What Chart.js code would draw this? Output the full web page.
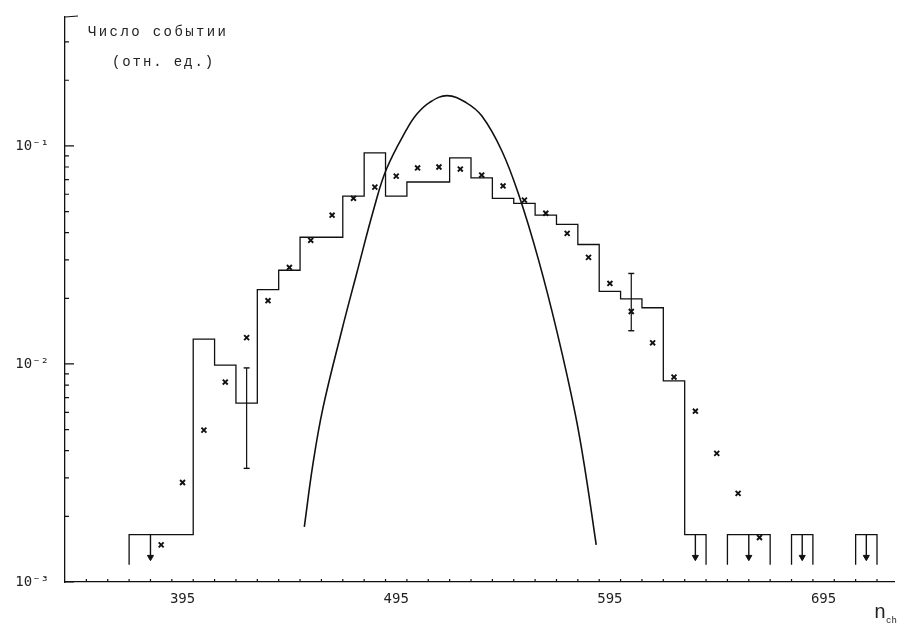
<!DOCTYPE html>
<html>
<head>
<meta charset="utf-8">
<script src="https://cdn.jsdelivr.net/npm/chart.js@4.4.1/dist/chart.umd.min.js"></script>
<style>
  body { margin: 0; background: #fff; }
  #wrap { position: relative; width: 900px; height: 626px; }
  .note { position: absolute; font-family: "Liberation Mono", monospace; font-size: 14px; color: #222; letter-spacing: 2.4px; white-space: nowrap; line-height: 16px; }
  #xname { font-size: 20px; letter-spacing: 0; }
  #xname sub { font-size: 9px; }
</style>
</head>
<body>
<div id="wrap">
  <canvas id="chart" width="900" height="626"></canvas>
  <div class="note" style="left:88px; top:24px;">Число событии</div>
  <div class="note" style="left:112px; top:54px; letter-spacing: 1.9px;">(отн. ед.)</div>
  <div class="note" id="xname" style="left:874px; top:605px;">n<sub>ch</sub></div>
</div>
<script>
// histogram: bin edges and heights (relative number of events)
const histEdges = [370, 400, 410, 420, 430, 440, 450, 470, 480, 490, 500, 520, 530, 540, 550, 560, 570, 580, 590, 600, 610, 620, 630, 640];
const histValues = [0.00165, 0.0130, 0.00988, 0.00661, 0.0219, 0.0269, 0.0381, 0.0588, 0.0929, 0.0588, 0.0683, 0.0881, 0.0713, 0.0575, 0.0545, 0.0481, 0.0437, 0.0353, 0.0215, 0.0199, 0.0181, 0.00836, 0.00165];
const histDrop = 0.0012;

// upper-limit bins on the right
const limitBins = [[650, 670], [680, 690], [710, 720]];
const limitLevel = 0.00165;
const arrowX = [380, 635, 660, 685, 715];
const arrowTip = 0.0013;

// crosses
const crossX = [385, 395, 405, 415, 425, 435, 445, 455, 465, 475, 485, 495, 505, 515, 525, 535, 545, 555, 565, 575, 585, 595, 605, 615, 625, 635, 645, 655, 665];
const crossY = [0.00148, 0.00286, 0.00497, 0.00826, 0.0132, 0.0195, 0.0277, 0.0369, 0.0481, 0.0575, 0.0647, 0.0727, 0.0792, 0.0800, 0.0783, 0.0735, 0.0655, 0.0564, 0.0491, 0.0397, 0.0308, 0.0234, 0.0174, 0.0125, 0.00871, 0.00607, 0.00389, 0.00255, 0.00160];

// error bars
const errX = [425, 605];
const errLow = [0.00332, 0.0142];
const errHigh = [0.00959, 0.0260];

// gaussian curve
const gaussX = [452, 456, 460.7, 469.5, 476.5, 484.9, 490.5, 499.8, 504.4, 510.5, 518.8, 527.7, 535.1, 544.4, 552.5, 561.6, 570.5, 578.8, 583.5, 588.6];
const gaussY = [0.00179, 0.00346, 0.00627, 0.0142, 0.026, 0.053, 0.0785, 0.1186, 0.139, 0.158, 0.170, 0.158, 0.137, 0.095, 0.059, 0.0300, 0.0137, 0.00589, 0.00321, 0.00148];

// axes
const xLabels = [395, 495, 595, 695];
const yLabels = [0.001, 0.01, 0.1];
const yLabelText = ['10\u207B\u00B3', '10\u207B\u00B2', '10\u207B\u00B9'];

const xTickMarks = [];
for (let v = 350; v <= 720; v += 10) xTickMarks.push(v);
const yMinorMarks = [];
[0.001, 0.01, 0.1].forEach(d => { for (let k = 2; k <= 9; k++) if (d * k < 0.39) yMinorMarks.push(d * k); });

// build line data
const histData = [{ x: histEdges[0], y: histDrop }];
histEdges.forEach((e, i) => histData.push({ x: e, y: i < histValues.length ? histValues[i] : histValues[histValues.length - 1] }));
histData.push({ x: histEdges[histEdges.length - 1], y: histDrop });
limitBins.forEach(b => {
  histData.push({ x: b[0], y: null });
  histData.push({ x: b[0], y: histDrop }, { x: b[0], y: limitLevel }, { x: b[1], y: limitLevel }, { x: b[1], y: histDrop });
});

const shaftData = [];
arrowX.forEach(x => { shaftData.push({ x: x, y: limitLevel }, { x: x, y: arrowTip }, { x: x, y: null }); });
const headData = arrowX.map(x => ({ x: x, y: arrowTip }));

const errData = [];
errX.forEach((x, i) => { errData.push({ x: x, y: errLow[i] }, { x: x, y: errHigh[i] }, { x: x, y: null }); });

const axisMarks = {
  id: 'axisMarks',
  afterDraw(chart) {
    const { ctx, chartArea: a, scales: { x, y } } = chart;
    ctx.save();
    ctx.strokeStyle = '#111';
    ctx.lineWidth = 1.2;
    ctx.beginPath();
    xTickMarks.forEach(v => { const px = x.getPixelForValue(v); ctx.moveTo(px, a.bottom); ctx.lineTo(px, a.bottom - 3); });
    yMinorMarks.forEach(v => { const py = y.getPixelForValue(v); ctx.moveTo(a.left, py); ctx.lineTo(a.left + 4, py); });
    yLabels.forEach(v => { const py = y.getPixelForValue(v); ctx.moveTo(a.left, py); ctx.lineTo(a.left + 9, py); });
    ctx.moveTo(a.left, a.top);
    ctx.lineTo(a.left + 13, a.top - 1);
    ctx.stroke();
    ctx.restore();
  }
};

new Chart(document.getElementById('chart').getContext('2d'), {
  type: 'line',
  data: {
    datasets: [
      { data: histData, stepped: 'before', borderColor: '#111', borderWidth: 1.3, pointRadius: 0, spanGaps: false },
      { data: gaussX.map((x, i) => ({ x: x, y: gaussY[i] })), borderColor: '#111', borderWidth: 1.6, pointRadius: 0, tension: 0.4 },
      { data: shaftData, borderColor: '#111', borderWidth: 1.4, pointRadius: 0, spanGaps: false },
      { data: headData, showLine: false, pointStyle: 'triangle', rotation: 180, pointRadius: 3.5, backgroundColor: '#111', borderColor: '#111', borderWidth: 1 },
      { data: errData, borderColor: '#111', borderWidth: 1.2, pointStyle: 'line', pointRadius: 3, pointBorderWidth: 1.4, pointBorderColor: '#111', spanGaps: false },
      { data: crossX.map((x, i) => ({ x: x, y: crossY[i] })), showLine: false, pointStyle: 'crossRot', pointRadius: 3.5, pointBorderWidth: 1.9, borderColor: '#111' }
    ]
  },
  options: {
    responsive: false,
    animation: false,
    layout: { padding: { top: 17, right: 2, left: 0, bottom: 0 } },
    plugins: { legend: { display: false }, tooltip: { enabled: false } },
    scales: {
      x: {
        type: 'linear', min: 340, max: 728,
        afterFit: s => { s.height = 44; s.paddingLeft = 0; s.paddingRight = 0; },
        afterBuildTicks: s => { s.ticks = xLabels.map(v => ({ value: v })); },
        grid: { drawOnChartArea: false, drawTicks: false },
        border: { color: '#111', width: 1.3 },
        ticks: { padding: 9, autoSkip: false, maxRotation: 0, color: '#222', font: { family: 'DejaVu Sans Mono', size: 14 }, callback: v => String(v) }
      },
      y: {
        type: 'logarithmic', min: 0.001, max: 0.39,
        afterFit: s => { s.width = 65; s.paddingTop = 0; s.paddingBottom = 0; },
        afterBuildTicks: s => { s.ticks = yLabels.map(v => ({ value: v })); },
        grid: { drawOnChartArea: false, drawTicks: false },
        border: { color: '#111', width: 1.3 },
        ticks: { padding: 16, autoSkip: false, color: '#222', font: { family: 'DejaVu Sans Mono', size: 14 }, callback: (v, i) => yLabelText[i] }
      }
    }
  },
  plugins: [axisMarks]
});
</script>
</body>
</html>
